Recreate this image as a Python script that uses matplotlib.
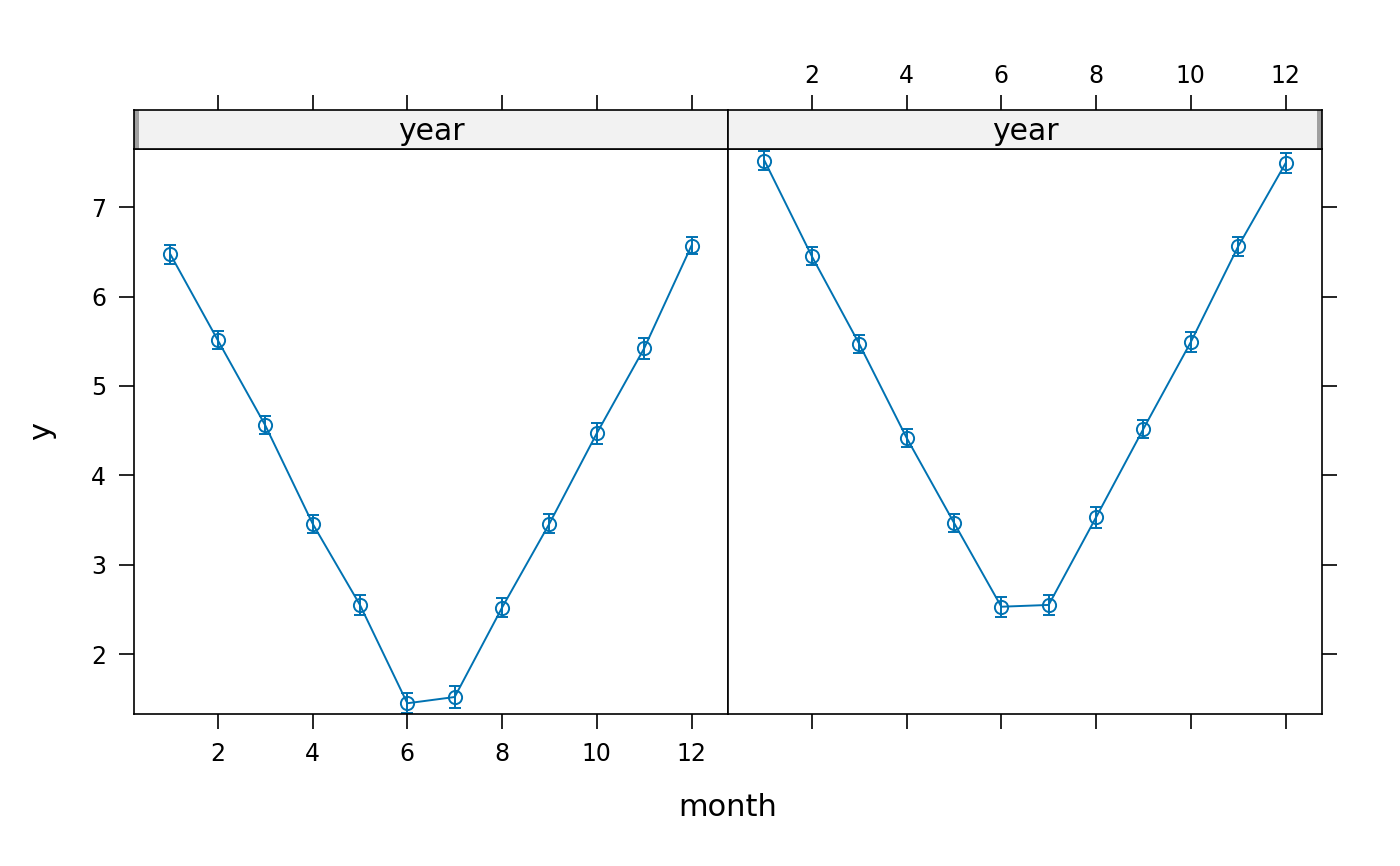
import matplotlib
matplotlib.use("Agg")
import matplotlib.pyplot as plt
from matplotlib.patches import Rectangle

# data
months = [1, 2, 3, 4, 5, 6, 7, 8, 9, 10, 11, 12]
y_first = [6.47, 5.51, 4.56, 3.46, 2.55, 1.45, 1.52, 2.52, 3.46, 4.47, 5.42, 6.57]
err_first = [0.11, 0.10, 0.10, 0.10, 0.11, 0.11, 0.12, 0.11, 0.11, 0.12, 0.12, 0.10]
y_second = [7.52, 6.45, 5.47, 4.42, 3.47, 2.53, 2.55, 3.53, 4.52, 5.49, 6.56, 7.49]
err_second = [0.11, 0.10, 0.10, 0.10, 0.10, 0.11, 0.11, 0.12, 0.10, 0.11, 0.11, 0.11]
xticks = [2, 4, 6, 8, 10, 12]
yticks = [2, 3, 4, 5, 6, 7]
strip_label = "year"

col = "#0072B2"
xlim = (0.23, 12.77)
ylim = (1.33, 7.65)

fig = plt.figure(figsize=(14, 8.66), dpi=100)

W, H = 1400, 866
px = lambda x0, y0, x1, y1: [x0 / W, 1 - y1 / H, (x1 - x0) / W, (y1 - y0) / H]

panels = [(134, 728, y_first, err_first, "left"), (728, 1322, y_second, err_second, "right")]

for x0, x1, yv, ev, side in panels:
    ax = fig.add_axes(px(x0, 149, x1, 714))
    ax.errorbar(months, yv, yerr=ev, color=col, lw=1.4, marker="o", ms=9.5,
                mfc="none", mew=1.4, capsize=4, capthick=1.4, elinewidth=1.4,
                clip_on=True)
    ax.set_xlim(*xlim)
    ax.set_ylim(*ylim)
    ax.set_xticks(xticks)
    ax.set_yticks(yticks)
    for s in ax.spines.values():
        s.set_linewidth(1.2)
    ax.tick_params(direction="out", length=11, width=1.2, labelsize=17, pad=9)
    if side == "left":
        ax.tick_params(left=True, right=False, labelleft=True, bottom=True, labelbottom=True)
    else:
        ax.tick_params(left=False, labelleft=False, right=True, labelright=False,
                       bottom=True, labelbottom=False)

    st = fig.add_axes(px(x0, 110, x1, 149))
    st.set_facecolor("#F2F2F2")
    st.set_xlim(*xlim)
    st.set_ylim(0, 1)
    st.set_yticks([])
    st.set_xticks(xticks)
    for s in st.spines.values():
        s.set_linewidth(1.2)
    st.xaxis.set_ticks_position("top")
    st.tick_params(direction="out", length=11, width=1.2, labelsize=17, pad=5,
                   labeltop=(side == "right"), labelbottom=False, bottom=False)
    bx = 0.0 if side == "left" else 1 - 0.008
    st.add_patch(Rectangle((bx, 0), 0.008, 1, transform=st.transAxes,
                           facecolor="#A0A0A0", edgecolor="none"))
    st.text(0.5, 0.45, strip_label, transform=st.transAxes, ha="center",
            va="center", fontsize=21.5)

fig.text(728 / W, 1 - 807 / H, "month", ha="center", va="center", fontsize=22)
fig.text(42 / W, 1 - 431 / H, "y", ha="center", va="center", fontsize=22, rotation=90)

fig.savefig("out.png", dpi=100)
